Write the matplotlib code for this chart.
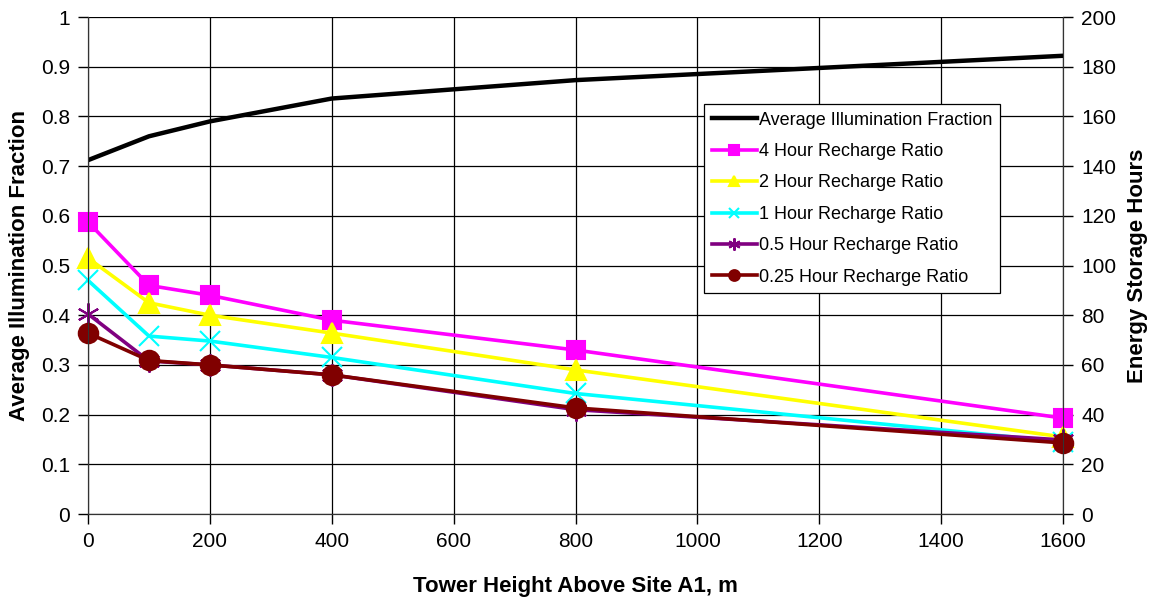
import numpy as np
import matplotlib.pyplot as plt

plt.rcParams['font.family'] = ['Liberation Sans', 'DejaVu Sans']

# Data
heights = [0, 100, 200, 400, 800, 1600]
illum_frac = [0.712, 0.760, 0.790, 0.836, 0.873, 0.922]
hours_4 = [117.5, 92, 88, 78, 66, 38.6]
hours_2 = [103, 85, 80, 72.8, 58, 31]
hours_1 = [94, 71.6, 69.6, 63, 48.5, 29]
hours_05 = [80.5, 61.6, 60, 56, 42, 29.8]
hours_025 = [72.8, 61.8, 60, 56, 42.7, 28.6]

fig = plt.figure(figsize=(11.51, 5.97), dpi=100)
ax = fig.add_axes([0.0765, 0.139, 0.847, 0.8325])
ax2 = ax.twinx()

# Left axis: illumination fraction
l0, = ax.plot(heights, illum_frac, color='black', lw=3.2, zorder=3,
              label='Average Illumination Fraction')
ax.set_xlim(0, 1600)
ax.set_ylim(0, 1)
ax.set_xticks(np.arange(0, 1601, 200))
ax.set_yticks(np.arange(0, 1.01, 0.1))
ax.set_yticklabels(['0', '0.1', '0.2', '0.3', '0.4', '0.5', '0.6', '0.7', '0.8', '0.9', '1'])
ax.grid(True, color='black', lw=0.9)
ax.set_axisbelow(True)
ax.tick_params(labelsize=15, length=7, width=1, direction='out', pad=6)
ax.set_xlabel('Tower Height Above Site A1, m', fontsize=16, fontweight='bold', labelpad=18)
ax.set_ylabel('Average Illumination Fraction', fontsize=16, fontweight='bold', labelpad=8)

# Right axis: energy storage hours
series = [
    (hours_4, '#FF00FF', 's', 13, '4 Hour Recharge Ratio'),
    (hours_2, '#FFFF00', '^', 14, '2 Hour Recharge Ratio'),
    (hours_1, '#00FFFF', 'x', 14, '1 Hour Recharge Ratio'),
    (hours_05, '#800080', (6, 2, 0), 16, '0.5 Hour Recharge Ratio'),
    (hours_025, '#800000', 'o', 14, '0.25 Hour Recharge Ratio'),
]
handles = [l0]
for vals, col, mk, ms, lab in series:
    h, = ax2.plot(heights, vals, color=col, lw=2.6, marker=mk, markersize=ms,
                  markeredgewidth=1.5, markeredgecolor=col, markerfacecolor=col,
                  label=lab, clip_on=False)
    handles.append(h)
ax2.set_ylim(0, 200)
ax2.set_yticks(np.arange(0, 201, 20))
ax2.tick_params(labelsize=15, length=7, width=1, direction='out', pad=6)
ax2.set_ylabel('Energy Storage Hours', fontsize=16, fontweight='bold', labelpad=8)

for a in (ax, ax2):
    for s in a.spines.values():
        s.set_color('#333333')
    a.spines['top'].set_visible(False)

leg = ax2.legend(handles=handles, loc='upper left', bbox_to_anchor=(0.632, 0.825),
                 borderaxespad=0, fontsize=13, markerscale=0.55, handlelength=2.5,
                 handletextpad=0.1, labelspacing=0.8, fancybox=False,
                 framealpha=1, edgecolor='black', borderpad=0.42)
leg.get_frame().set_linewidth(0.9)

fig.savefig('out.png', dpi=100)
